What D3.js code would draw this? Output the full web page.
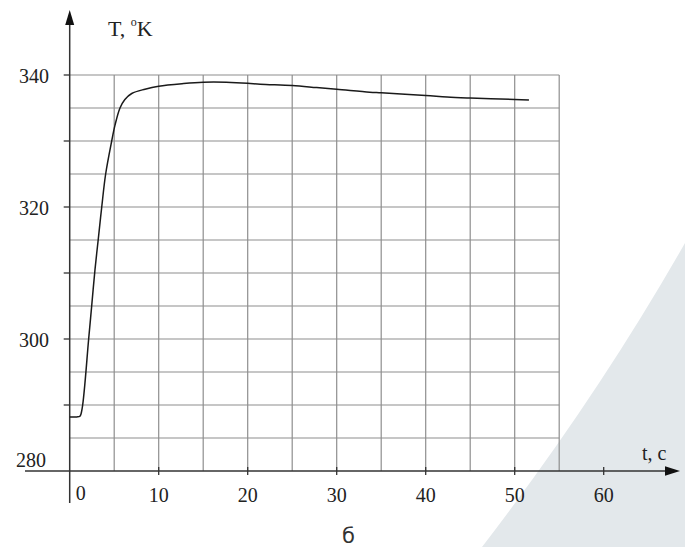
<!DOCTYPE html>
<html>
<head>
<meta charset="utf-8">
<script src="https://cdn.jsdelivr.net/npm/d3@7"></script>
<style>
html,body{margin:0;padding:0;background:#fff;}
svg{display:block;}
</style>
</head>
<body>
<script>
// ---- data ----
const timeValues = [0, 0.8, 1.15, 1.4, 2.13, 2.47, 2.84, 3.2, 3.6, 4.04, 4.72, 5.09, 5.65, 6.2, 6.97, 8.46, 10, 12.8, 15, 17.6, 20, 21.4, 25, 27.75, 30, 33.7, 35, 40, 42.4, 45, 50, 51.6];
const tempValues = [288.2, 288.2, 288.3, 289.5, 300, 305, 310.5, 315, 320, 325, 330, 332.4, 335, 336.3, 337.2, 337.85, 338.3, 338.7, 338.9, 338.9, 338.75, 338.6, 338.4, 338.1, 337.85, 337.4, 337.3, 336.9, 336.65, 336.5, 336.3, 336.2];
const xTickValues = [10, 20, 30, 40, 50, 60];
const xTickLabels = ["10", "20", "30", "40", "50", "60"];
const yTickValues = [290, 300, 310, 320, 330, 340];
const yLabelValues = [340, 320, 300, 280];
const yLabelTexts = ["340", "320", "300", "280"];
const xGridValues = d3.range(5, 55.001, 5);
const yGridValues = d3.range(285, 340.001, 5);
const xAxisTitle = "t, c";
const yAxisTitle = ["T, ", "o", "K"];
const caption = "б";

const W = 685, H = 547;
const svg = d3.select("body").append("svg").attr("width", W).attr("height", H);

const x = d3.scaleLinear().domain([0, 60]).range([69.7, 603.7]);
const y = d3.scaleLinear().domain([280, 340]).range([471, 75]);

// background decorative wedge
svg.append("path")
  .attr("d", "M482,547Q598,396 685,243L685,547Z")
  .attr("fill", "#e3e8eb");

const serif = "Liberation Serif";
const axisColor = "#333";
const gridColor = "#8e8e8e";

// grid
const g = svg.append("g");
g.selectAll("line.v").data(xGridValues).join("line")
  .attr("x1", d => x(d)).attr("x2", d => x(d))
  .attr("y1", y(340)).attr("y2", y(280))
  .attr("stroke", gridColor).attr("stroke-width", 1.2);
g.selectAll("line.h").data(yGridValues).join("line")
  .attr("x1", x(0)).attr("x2", x(55))
  .attr("y1", d => y(d)).attr("y2", d => y(d))
  .attr("stroke", gridColor).attr("stroke-width", 1.2);

// axes
const x0 = x(0), yBase = y(280);
svg.append("line").attr("x1", x0).attr("x2", x0).attr("y1", 503).attr("y2", 22)
  .attr("stroke", axisColor).attr("stroke-width", 1.5);
svg.append("path").attr("d", `M${x0},10L${x0 + 4.5},25L${x0 - 4.5},25Z`).attr("fill", "#111");
svg.append("line").attr("x1", 25).attr("x2", 668).attr("y1", yBase).attr("y2", yBase)
  .attr("stroke", axisColor).attr("stroke-width", 1.5);
svg.append("path").attr("d", `M680,${yBase}L665,${yBase - 4.7}L665,${yBase + 4.7}Z`).attr("fill", "#111");

// ticks
svg.selectAll("line.yt").data(yTickValues).join("line")
  .attr("x1", x0 - 6).attr("x2", x0)
  .attr("y1", d => y(d)).attr("y2", d => y(d))
  .attr("stroke", axisColor).attr("stroke-width", 1.3);
svg.selectAll("line.xt").data(xTickValues).join("line")
  .attr("x1", d => x(d)).attr("x2", d => x(d))
  .attr("y1", yBase - 4).attr("y2", yBase + 4)
  .attr("stroke", axisColor).attr("stroke-width", 1.3);

// tick labels
svg.selectAll("text.yl").data(yLabelValues).join("text")
  .attr("x", d => d === 280 ? 46 : 49)
  .attr("y", d => d === 280 ? y(d) - 4 : y(d) + 8)
  .attr("text-anchor", "end")
  .attr("font-family", serif).attr("font-size", 20).attr("fill", "#222")
  .text((d, i) => yLabelTexts[i]);
svg.selectAll("text.xl").data(xTickValues).join("text")
  .attr("x", d => x(d)).attr("y", 502)
  .attr("text-anchor", "middle")
  .attr("font-family", serif).attr("font-size", 20).attr("fill", "#222")
  .text((d, i) => xTickLabels[i]);
svg.append("text").attr("x", x0 + 11).attr("y", 500)
  .attr("text-anchor", "middle")
  .attr("font-family", serif).attr("font-size", 20).attr("fill", "#222")
  .text("0");

// axis titles
const yt = svg.append("text").attr("x", 108).attr("y", 36)
  .attr("font-family", serif).attr("font-size", 22).attr("fill", "#222");
yt.append("tspan").text(yAxisTitle[0]);
yt.append("tspan").attr("font-size", 12).attr("dy", -10).text(yAxisTitle[1]);
yt.append("tspan").attr("dy", 10).text(yAxisTitle[2]);
svg.append("text").attr("x", 642).attr("y", 460)
  .attr("font-family", serif).attr("font-size", 20).attr("fill", "#222")
  .text(xAxisTitle);
svg.append("text").attr("x", 348.5).attr("y", 543)
  .attr("text-anchor", "middle")
  .attr("font-family", "DejaVu Sans").attr("font-size", 21).attr("fill", "#333")
  .text(caption);

// curve
const pts = timeValues.map((t, i) => [t, tempValues[i]]);
svg.append("path").datum(pts)
  .attr("d", d3.line().x(d => x(d[0])).y(d => y(d[1])).curve(d3.curveCatmullRom.alpha(0.5)))
  .attr("fill", "none").attr("stroke", "#1a1a1a").attr("stroke-width", 1.5);
</script>
</body>
</html>
